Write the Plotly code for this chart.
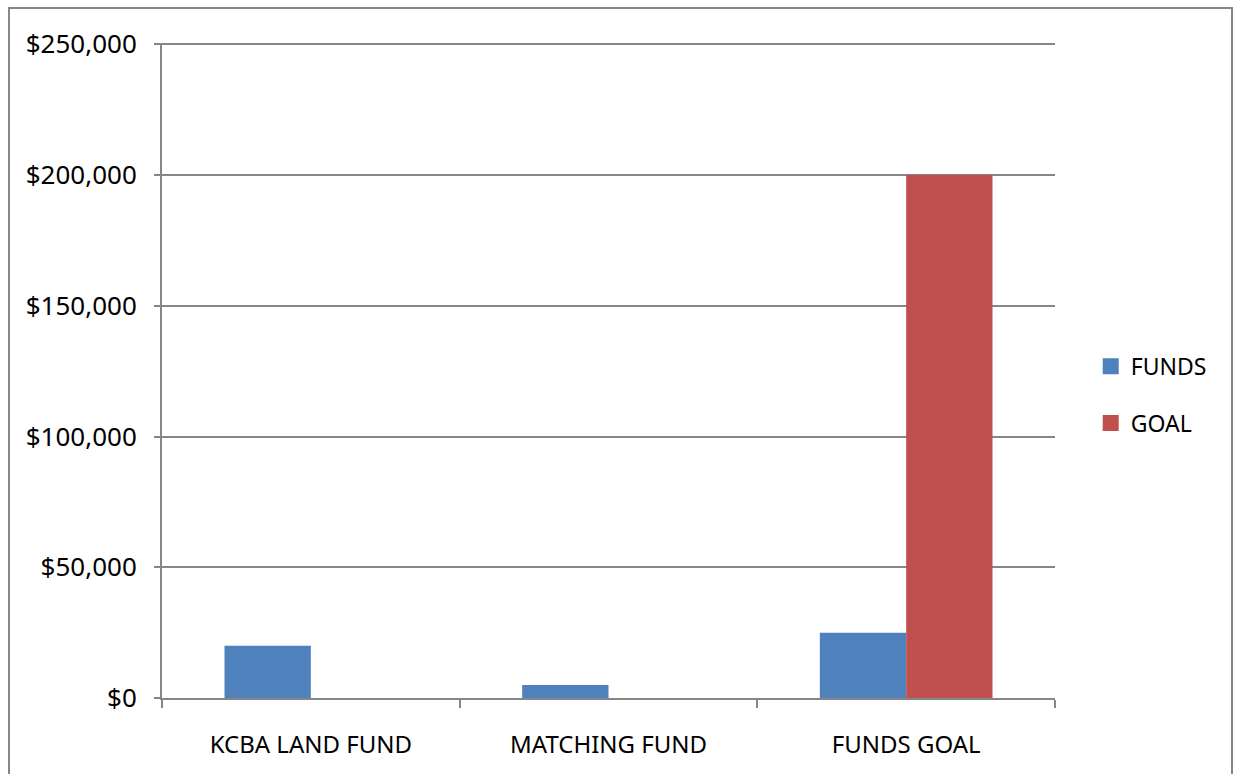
import plotly.graph_objects as go

categories = ["KCBA LAND FUND", "MATCHING FUND", "FUNDS GOAL"]
funds = [20000, 5000, 25000]
goal = [0, 0, 200000]
tick_vals = [0, 50000, 100000, 150000, 200000, 250000]
tick_text = ["$0", "$50,000", "$100,000", "$150,000", "$200,000", "$250,000"]

BLUE = "#4F81BD"
RED = "#C0504D"
GRID = "#868686"
FONT = "Noto Sans"

fig = go.Figure()
fig.add_trace(go.Bar(name="FUNDS", x=categories, y=funds, marker_color=BLUE,
                     marker_line_width=0, showlegend=False))
fig.add_trace(go.Bar(name="GOAL", x=categories, y=goal, marker_color=RED,
                     marker_line_width=0, showlegend=False))
# legend entries
fig.add_trace(go.Scatter(name="FUNDS", x=[None], y=[None], mode="markers",
                         marker=dict(symbol="square", size=16, color=BLUE),
                         legendgroup="a"))
fig.add_trace(go.Scatter(name="GOAL", x=[None], y=[None], mode="markers",
                         marker=dict(symbol="square", size=16, color=RED),
                         legendgroup="b"))

fig.update_layout(
    width=1235, height=774,
    margin=dict(l=162, r=180, t=43, b=76),
    paper_bgcolor="white", plot_bgcolor="white",
    barmode="group", bargap=0.42, bargroupgap=0,
    font=dict(family=FONT, size=22, color="black"),
    legend=dict(x=1.04, y=0.463, xanchor="left", yanchor="middle",
                font=dict(size=23), tracegroupgap=24, traceorder="grouped",
                bgcolor="rgba(0,0,0,0)"),
    xaxis=dict(showline=True, linecolor=GRID, linewidth=2,
               ticks="outside", tickson="boundaries", ticklen=8,
               tickcolor=GRID, tickwidth=2, showgrid=False,
               tickfont=dict(size=24), ticklabelstandoff=24),
    yaxis=dict(range=[0, 250000 * 1.002], tickvals=tick_vals, ticktext=tick_text,
               showline=True, linecolor=GRID, linewidth=2,
               ticks="outside", ticklen=6, tickcolor=GRID, tickwidth=2,
               showgrid=True, gridcolor=GRID, gridwidth=2, zeroline=False,
               tickfont=dict(size=26), ticklabelstandoff=12),
    shapes=[dict(type="rect", xref="paper", yref="paper",
                 x0=(9 - 162) / 893, x1=(1232 - 162) / 893,
                 y0=(698 - 790) / 655, y1=(698 - 8) / 655,
                 line=dict(color=GRID, width=2), layer="below")],
)

fig.write_html("out.html")
